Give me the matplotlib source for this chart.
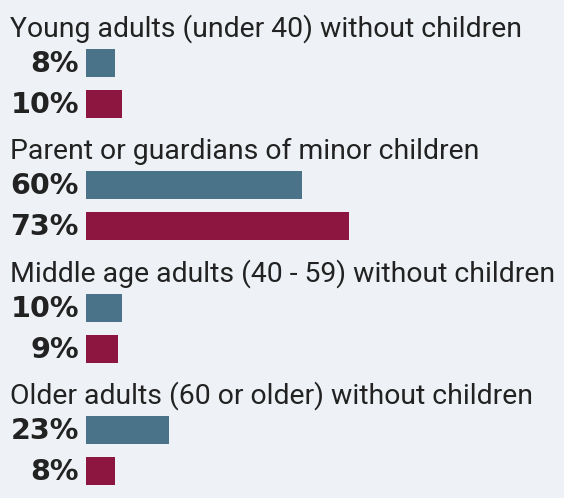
import matplotlib
matplotlib.use("Agg")
import matplotlib.pyplot as plt
from matplotlib import transforms

categories = [
    "Young adults (under 40) without children",
    "Parent or guardians of minor children",
    "Middle age adults (40 - 59) without children",
    "Older adults (60 or older) without children",
]
series_a = [8, 60, 10, 23]   # blue
series_b = [10, 73, 9, 8]    # maroon

BG = "#eef2f6"
BLUE = "#4a7289"
MAROON = "#8c1640"
TEXT = "#222222"

W, H, DPI = 564, 498, 100
fig = plt.figure(figsize=(W / DPI, H / DPI), dpi=DPI, facecolor=BG)
ax = fig.add_axes([86 / W, 0, 360 / W, 1])
ax.set_facecolor(BG)
ax.set_xlim(0, 100)
ax.set_ylim(H, 0)   # vertical layout in pixel units
ax.axis("off")

first_bar = 63.0
group_step = 122.3
bar_step = 41.0
bar_h = 28.0
title_off = 26.5   # baseline of title above first bar centre

lbl_tr = transforms.offset_copy(ax.get_yaxis_transform(), fig=fig, x=-7, y=0, units="dots")
title_tr = transforms.blended_transform_factory(fig.transFigure, ax.transData)

for i, cat in enumerate(categories):
    y0 = first_bar + group_step * i
    ax.text(10 / W, y0 - title_off, cat, transform=title_tr, ha="left", va="baseline",
            fontsize=20.4, family="Roboto", color=TEXT)
    for j, (vals, col) in enumerate(((series_a, BLUE), (series_b, MAROON))):
        y = y0 + bar_step * j
        ax.barh(y, vals[i], height=bar_h, color=col, left=0)
        ax.text(0, y + 1, f"{vals[i]}%", transform=lbl_tr, ha="right", va="center",
                fontsize=20.6, family="DejaVu Sans", fontweight="bold", color=TEXT)

fig.savefig("out.png", dpi=DPI, facecolor=BG)
